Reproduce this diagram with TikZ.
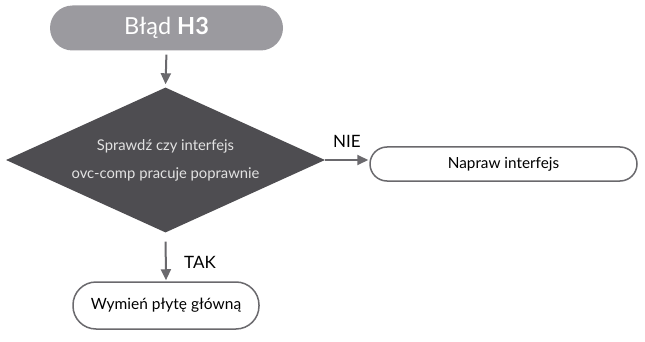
\documentclass[tikz,border=0pt]{standalone}
\usepackage{fontspec}
\setmainfont{Lato}
\usetikzlibrary{shapes.geometric,arrows.meta}
\definecolor{topgray}{HTML}{9B9A9F}
\definecolor{darkgray}{HTML}{4E4D51}
\definecolor{linegray}{HTML}{6A696D}
\definecolor{difftext}{HTML}{E2E2E2}
\tikzset{
  pill/.style={draw=linegray, line width=1.5pt, fill=white, rounded corners=#1, inner sep=0pt, align=center},
  conn/.style={draw=linegray, line width=2pt, -{Triangle[length=11pt,width=10pt]}},
  lbl/.style={font=\fontsize{17}{18}\selectfont, text=black, inner sep=0pt},
}
\begin{document}
\begin{tikzpicture}[x=1pt,y=-1pt]
\useasboundingbox (0,0) rectangle (645,342);
\node[fill=topgray, rounded corners=22.5pt, minimum width=233pt, minimum height=45pt, inner sep=0pt, text=white, font=\fontsize{23.5}{24}\selectfont] (top) at (166.5,28) {Błąd \textbf{H3}};
\node[diamond, fill=darkgray, minimum width=319pt, minimum height=145pt, aspect=2.2, inner sep=0pt, text=difftext, align=center, font=\fontsize{14.8}{28}\selectfont] (dec) at (165.5,160) {Sprawdź czy interfejs\\ovc-comp pracuje poprawnie};
\node[pill=17pt, minimum width=267pt, minimum height=34pt, font=\fontsize{15.3}{16}\selectfont] (fix) at (503.5,164) {Napraw interfejs};
\node[pill=23pt, minimum width=186pt, minimum height=47pt, font=\fontsize{15.5}{16}\selectfont] (swap) at (166,305.5) {Wymień płytę główną};
\draw[conn, shorten <=4pt, shorten >=3pt] (top.south) -- (dec.north);
\draw[conn, shorten >=1pt] (dec.east) -- (dec.east -| fix.west);
\draw[conn, shorten <=9pt, shorten >=1pt] (dec.south) -- (swap.north);
\node[lbl] (nie) at (347,141) {NIE};
\node[lbl] (tak) at (200,262) {TAK};
\end{tikzpicture}
\end{document}
